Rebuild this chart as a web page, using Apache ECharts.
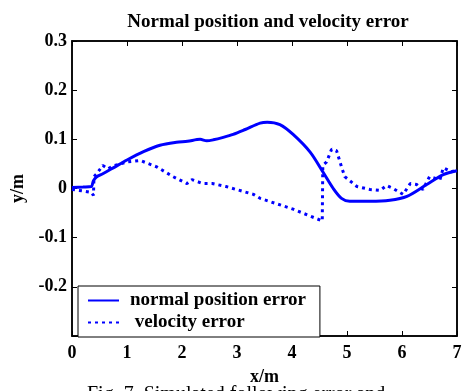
<!DOCTYPE html>
<html>
<head>
<meta charset="utf-8">
<script src="https://cdn.jsdelivr.net/npm/echarts@6/dist/echarts.min.js"></script>
<style>
html, body { margin: 0; padding: 0; background: #fff; }
#main { width: 468px; height: 391px; }
</style>
</head>
<body>
<div id="main"></div>
<script>
// normal position error (solid)
var posX = [0, 0.2, 0.35, 0.39, 0.45, 0.56, 0.75, 1.0, 1.3, 1.6, 1.9, 2.1, 2.33, 2.45, 2.57, 2.75, 2.93, 3.15, 3.42, 3.55, 3.78, 4.02, 4.33, 4.56, 4.75, 4.9, 5.05, 5.42, 5.78, 6.09, 6.45, 6.75, 7.0];
var posY = [0.002, 0.003, 0.004, 0.016, 0.024, 0.03, 0.042, 0.058, 0.075, 0.088, 0.094, 0.096, 0.1, 0.097, 0.099, 0.104, 0.11, 0.12, 0.133, 0.135, 0.13, 0.11, 0.074, 0.034, 0.0, -0.02, -0.026, -0.026, -0.024, -0.016, 0.008, 0.028, 0.036];

// velocity error (dotted)
var velX = [0, 0.2, 0.35, 0.39, 0.4, 0.45, 0.56, 0.65, 0.75, 1.0, 1.24, 1.54, 1.84, 2.09, 2.18, 2.38, 2.55, 2.8, 3.3, 3.42, 4.02, 4.55, 4.56, 4.63, 4.72, 4.81, 4.9, 4.96, 5.18, 5.42, 5.6, 5.72, 5.84, 6.02, 6.15, 6.27, 6.38, 6.5, 6.69, 6.75, 6.9, 7.0];
var velY = [-0.002, -0.005, -0.008, -0.014, 0.024, 0.03, 0.047, 0.04, 0.046, 0.054, 0.057, 0.044, 0.024, 0.01, 0.018, 0.01, 0.01, 0.004, -0.012, -0.02, -0.042, -0.066, 0.047, 0.054, 0.08, 0.077, 0.044, 0.024, 0.004, -0.002, -0.004, 0.006, 0.0, -0.012, 0.01, 0.008, -0.002, 0.024, 0.018, 0.042, 0.034, 0.038];

var xTicks = [0, 1, 2, 3, 4, 5, 6, 7];
var yTicks = [-0.3, -0.2, -0.1, 0, 0.1, 0.2, 0.3];

function pairs(xs, ys) {
    var out = [];
    for (var i = 0; i < xs.length; i++) {
        out.push([xs[i], ys[i]]);
    }
    return out;
}

var font = 'Liberation Serif';
var chart = echarts.init(document.getElementById('main'));

var option = {
    animation: false,
    backgroundColor: '#fff',
    title: {
        text: 'Normal position and velocity error',
        left: 263,
        textAlign: 'center',
        top: 8,
        textStyle: { fontFamily: font, fontWeight: 'bold', fontSize: 19, color: '#000' }
    },
    legend: {
        orient: 'vertical',
        left: 78,
        top: 286,
        padding: [5, 14, 5, 9],
        itemGap: 3,
        itemWidth: 31,
        itemHeight: 18,
        borderColor: '#000',
        borderWidth: 1,
        backgroundColor: '#fff',
        itemStyle: { opacity: 0 },
        data: ['normal position error', ' velocity error'],
        textStyle: { fontFamily: font, fontWeight: 'bold', fontSize: 19, color: '#000', padding: [0, 0, 0, 6] }
    },
    grid: {
        left: 72,
        right: 11,
        top: 41,
        bottom: 49,
        show: true,
        borderColor: '#000',
        borderWidth: 1.5
    },
    xAxis: [{
        type: 'value',
        min: 0,
        max: 7,
        interval: 1,
        name: 'x/m',
        nameLocation: 'middle',
        nameGap: 32,
        nameTextStyle: { fontFamily: font, fontWeight: 'bold', fontSize: 18, color: '#000' },
        axisLine: { onZero: false, lineStyle: { color: '#000', width: 1.5 } },
        axisTick: { inside: true, length: 5, lineStyle: { color: '#000' } },
        axisLabel: {
            fontFamily: font, fontWeight: 'bold', fontSize: 18, color: '#000', margin: 8,
            formatter: function (v) { return xTicks.indexOf(v) >= 0 ? String(v) : ''; }
        },
        splitLine: { show: false }
    }, {
        type: 'value',
        position: 'top',
        min: 0,
        max: 7,
        interval: 1,
        axisLine: { onZero: false, lineStyle: { color: '#000', width: 1.5 } },
        axisTick: { inside: true, length: 5, lineStyle: { color: '#000' } },
        axisLabel: { show: false },
        splitLine: { show: false }
    }],
    yAxis: [{
        type: 'value',
        min: -0.3,
        max: 0.3,
        interval: 0.1,
        name: 'y/m',
        nameLocation: 'middle',
        nameGap: 42,
        nameTextStyle: { fontFamily: font, fontWeight: 'bold', fontSize: 18, color: '#000' },
        axisLine: { onZero: false, lineStyle: { color: '#000', width: 1.5 } },
        axisTick: { inside: true, length: 5, lineStyle: { color: '#000' } },
        axisLabel: {
            fontFamily: font, fontWeight: 'bold', fontSize: 18, color: '#000', margin: 5,
            formatter: function (v) {
                var r = Math.round(v * 10) / 10;
                if (r === yTicks[0]) return '';
                return r === 0 ? '0' : String(r);
            }
        },
        splitLine: { show: false }
    }, {
        type: 'value',
        position: 'right',
        min: -0.3,
        max: 0.3,
        interval: 0.1,
        axisLine: { onZero: false, lineStyle: { color: '#000', width: 1.5 } },
        axisTick: { inside: true, length: 5, lineStyle: { color: '#000' } },
        axisLabel: { show: false },
        splitLine: { show: false }
    }],
    graphic: [{
        type: 'text',
        left: 87,
        top: 385,
        style: {
            text: 'Fig. 7  Simulated following error and',
            font: '20px "Liberation Serif"',
            fill: '#000'
        }
    }],
    series: [{
        name: 'normal position error',
        type: 'line',
        symbol: 'none',
        smooth: 0.3,
        data: pairs(posX, posY),
        lineStyle: { color: '#0000ff', width: 3, type: 'solid' },
        itemStyle: { color: '#0000ff' }
    }, {
        name: ' velocity error',
        type: 'line',
        symbol: 'none',
        data: pairs(velX, velY),
        lineStyle: { color: '#0000ff', width: 3, type: [3, 4] },
        itemStyle: { color: '#0000ff' }
    }]
};

chart.setOption(option);
</script>
</body>
</html>
